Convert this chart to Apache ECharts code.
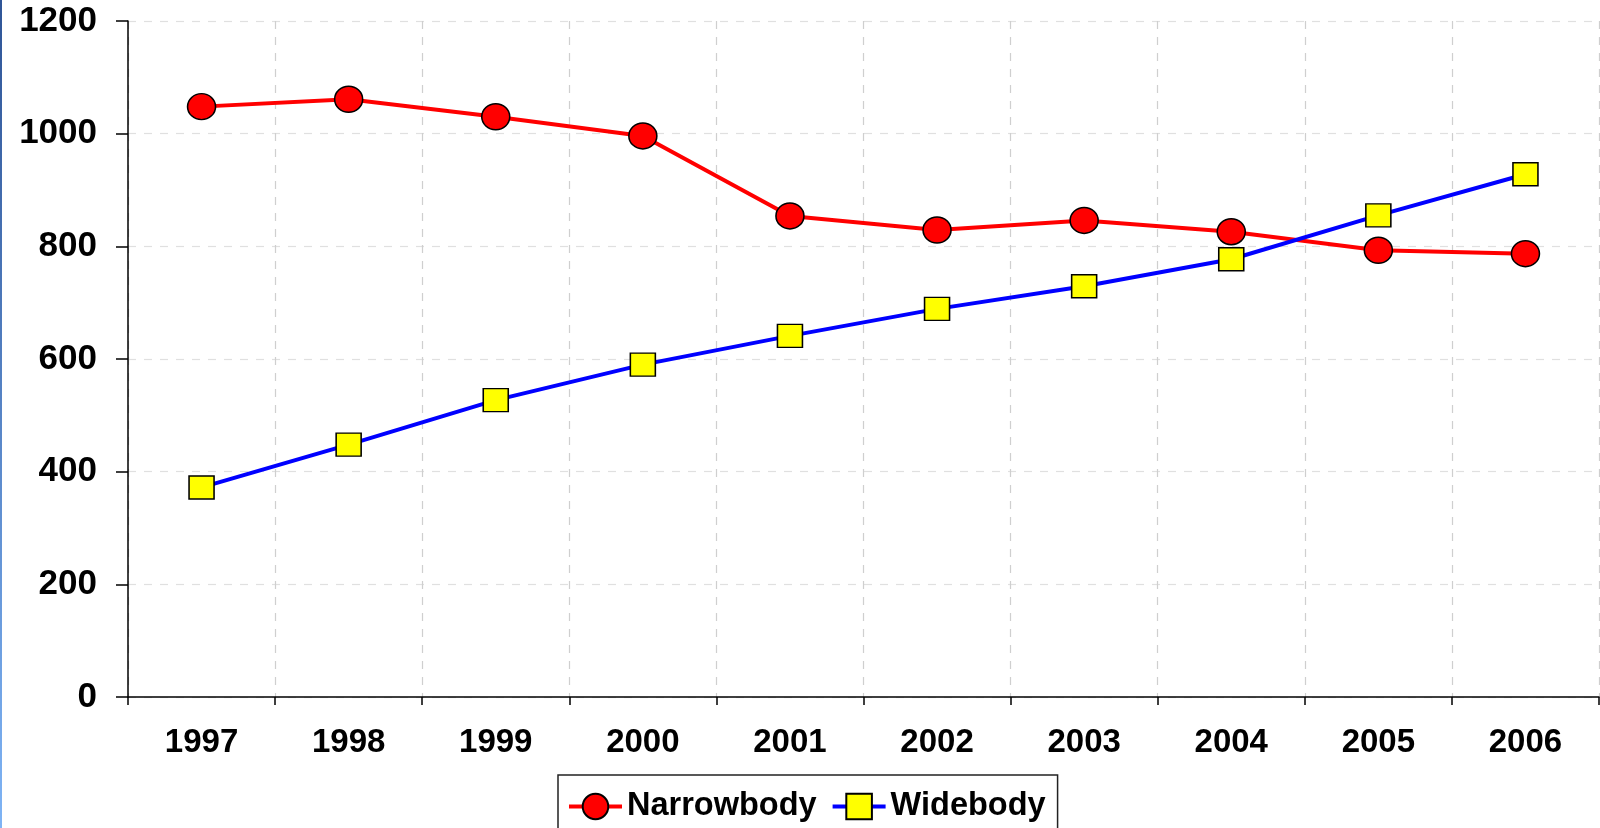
<!DOCTYPE html>
<html>
<head>
<meta charset="utf-8">
<script src="https://cdn.jsdelivr.net/npm/echarts@6/dist/echarts.min.js"></script>
<style>
  html, body {margin: 0; padding: 0; background: #fff;}
  #main {width: 1600px; height: 828px;}
</style>
</head>
<body>
<div id="main"></div>
<script>
// 数据
var years = ['1997', '1998', '1999', '2000', '2001', '2002', '2003', '2004', '2005', '2006'];
var narrowbody = [1048, 1061, 1030, 996, 854, 829, 846, 826, 793, 787];
var widebody = [372, 448, 527, 590, 641, 689, 729, 777, 855, 928];
var yTicks = [0, 200, 400, 600, 800, 1000, 1200];

var font = '"Liberation Sans", Arial, sans-serif';

var option = {
    backgroundColor: '#fff',
    animation: false,
    grid: {left: 128, right: 1, top: 21, bottom: 131, containLabel: false},
    legend: {
        left: 558, top: 775,
        padding: [15, 12, 20, 9],
        itemGap: 14,
        itemWidth: 53, itemHeight: 32,
        borderColor: '#222', borderWidth: 1.5,
        lineStyle: {width: 4},
        textStyle: {fontSize: 32.5, fontWeight: 'bold', color: '#000', fontFamily: font},
        data: ['Narrowbody', 'Widebody']
    },
    xAxis: {
        type: 'category',
        boundaryGap: true,
        data: years,
        axisLine: {lineStyle: {color: '#000', width: 1.5}},
        axisTick: {show: true, length: 8, lineStyle: {color: '#000', width: 1.5}},
        axisLabel: {margin: 29, fontSize: 33, fontWeight: 'bold', color: '#000', fontFamily: font},
        splitLine: {show: true, lineStyle: {color: '#cfcfcf', type: [8, 8], width: 1.2}}
    },
    yAxis: {
        type: 'value',
        min: yTicks[0], max: yTicks[yTicks.length - 1], interval: 200,
        axisLine: {show: true, lineStyle: {color: '#000', width: 1.5}},
        axisTick: {show: true, length: 12, lineStyle: {color: '#000', width: 1.5}},
        axisLabel: {
            margin: 31, fontSize: 35, fontWeight: 'bold', color: '#000', fontFamily: font,
            formatter: function (v) { return String(v); }
        },
        splitLine: {show: true, lineStyle: {color: '#e0e0e0', type: [8, 8], width: 1.2}}
    },
    series: [
        {
            name: 'Narrowbody', type: 'line',
            data: narrowbody,
            symbol: 'circle', symbolSize: [28, 26],
            lineStyle: {color: '#ff0000', width: 4},
            itemStyle: {color: '#ff0000', borderColor: '#000', borderWidth: 1.5}
        },
        {
            name: 'Widebody', type: 'line',
            data: widebody,
            symbol: 'rect', symbolSize: [25, 23],
            lineStyle: {color: '#0000ff', width: 4},
            itemStyle: {color: '#ffff00', borderColor: '#000', borderWidth: 1.5}
        }
    ],
    graphic: [{
        type: 'rect', left: 0, top: 0, z: 100,
        shape: {width: 2, height: 828},
        style: {
            fill: new echarts.graphic.LinearGradient(0, 0, 0, 1, [
                {offset: 0, color: '#2f5597'},
                {offset: 1, color: '#7fb4f5'}
            ])
        }
    }]
};

var myChart = echarts.init(document.getElementById('main'));
myChart.setOption(option);
</script>
</body>
</html>
